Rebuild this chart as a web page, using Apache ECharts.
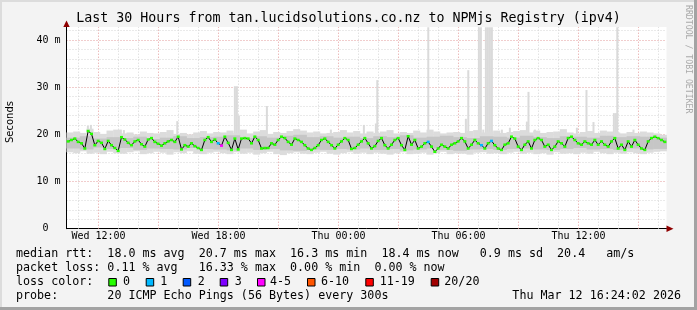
<!DOCTYPE html>
<html><head><meta charset="utf-8">
<script src="https://cdn.jsdelivr.net/npm/echarts@6/dist/echarts.min.js"></script>
<style>html,body{margin:0;padding:0;background:#f3f3f3}#c{width:697px;height:310px}</style>
</head><body><div id="c"></div>
<script>
// ---- time frame (hours since Wed 00:00) ----
const START_H = 10 + 24/60 + 2/3600;   // Wed 10:24:02
const END_H = START_H + 30;            // Thu 16:24:02
const MEDIAN_STEP_MIN = 10;
const SMOKE_STEP_MIN = 20;
const MID_STEP_MIN = 40;

// ---- tick labels ----
const xTickHours = [12, 18, 24, 30, 36];
const xTickLabels = ['Wed 12:00', 'Wed 18:00', 'Thu 00:00', 'Thu 06:00', 'Thu 12:00'];
const yTickValues = [0, 10, 20, 30, 40];
const yTickLabels = ['0  ', '10 m', '20 m', '30 m', '40 m'];
const minorGridHours = [11,13,14,16,17,19,20,22,23,25,26,28,29,31,32,34,35,37,38,40];
const majorGridHours = [12,15,18,21,24,27,30,33,36,39];

// ---- median rtt (ms), one value per 10 minutes ----
const median = [
 18.5,18.8,19.1,18.4,18.1,17.0,20.7,20.1,17.7,18.6,18.2,16.9,18.6,17.7,17.1,16.5,19.4,18.9,18.2,17.7,
 18.5,18.8,17.9,17.4,18.9,19.2,18.4,18.0,17.6,18.1,18.5,18.8,18.4,19.5,16.8,17.7,17.4,18.1,17.5,17.1,
 16.7,18.8,19.4,18.4,18.9,
 18.1,17.6,19.5,18.2,16.7,19.1,16.8,19.1,19.2,19.1,18.1,19.5,18.8,17.0,17.1,17.1,18.1,17.8,18.8,19.5,
 19.2,18.4,17.8,19.1,18.8,18.4,17.7,17.0,16.7,17.1,17.7,18.8,19.1,18.4,17.7,17.0,17.8,18.5,19.2,18.8,
 16.9,17.1,17.8,18.5,19.2,
 18.1,17.0,17.5,18.6,19.2,17.7,17.0,17.8,18.8,19.2,17.7,16.7,19.6,17.8,18.8,17.0,17.4,18.1,18.4,17.4,
 16.3,17.0,17.8,17.4,17.0,17.8,18.1,18.5,19.2,18.5,17.0,17.8,18.8,18.1,17.7,17.0,18.1,18.6,17.7,17.0,
 16.7,17.8,18.1,19.5,19.1,
 17.4,16.7,17.8,18.5,17.0,18.8,19.2,18.8,17.4,17.8,16.7,17.4,18.5,18.1,17.4,19.2,19.5,18.8,18.1,17.8,
 18.5,18.1,17.8,18.8,17.8,18.5,17.8,17.4,18.5,19.2,17.0,17.8,16.7,18.5,17.4,18.8,17.8,17.0,16.7,18.5,
 19.2,19.5,19.2,18.8,18.4
];
// samples that had packet loss: index into median, loss class index
const lossIdx = [45, 46, 108, 124, 127];
const lossCls = [1, 4, 1, 1, 1];

// ---- smoke (ms), light band per 20 minutes ----
const smokeHi = [
 20.4,20.6,20.3,21.2,20.5,20.1,20.8,21.0,20.2,20.4,20.0,20.6,20.3,20.2,20.5,20.9,20.1,20.3,20.0,20.4,20.7,20.2,20.5,
 20.4,20.8,20.3,21.0,20.2,20.6,20.9,20.1,20.5,20.3,20.7,21.1,20.8,20.4,20.6,20.2,20.3,20.5,20.9,20.4,20.7,20.2,20.6,
 20.3,20.6,20.9,20.2,20.5,20.3,20.8,20.4,21.0,20.6,20.2,20.4,20.5,20.3,20.7,20.9,20.4,20.6,20.8,20.3,20.5,20.7,
 20.9,20.4,20.8,20.3,20.5,20.6,21.1,20.4,20.2,20.5,20.7,20.3,20.8,20.6,20.4,20.2,20.5,20.3,20.6,20.4,20.2,19.9
];
const smokeLo = [
 16.2,16.0,16.4,15.9,16.1,15.8,16.3,16.0,15.9,16.2,16.4,15.8,16.0,16.3,16.1,15.7,16.2,16.0,16.4,15.9,15.8,16.1,16.3,
 16.0,15.8,16.2,15.9,16.1,15.7,16.0,16.3,15.8,15.6,16.0,16.2,15.9,15.8,16.1,16.3,15.9,15.7,16.0,16.2,15.9,16.1,15.8,
 16.1,15.9,15.7,16.0,16.2,15.8,15.9,16.1,15.7,16.0,16.3,15.8,16.0,15.9,15.7,16.1,16.2,15.9,16.0,15.8,16.1,16.3,
 15.9,16.1,15.8,16.0,15.7,16.2,15.9,16.0,15.8,16.1,15.9,16.3,16.0,15.8,16.1,15.9,16.2,16.0,15.8,16.1,16.3,16.4
];
// darker inner smoke, per 40 minutes
const midHi = [
 19.3,19.6,19.1,19.4,19.2,19.5,19.0,19.3,19.6,19.2,19.4,
 19.5,19.8,19.2,19.6,19.3,19.7,19.9,19.4,19.6,19.3,19.5,
 19.2,19.6,19.4,19.8,19.3,19.5,19.7,19.4,19.2,19.6,19.5,
 19.3,19.7,19.4,19.2,19.6,19.5,19.3,19.7,19.4,19.6,19.5,19.3
];
const midLo = [
 17.0,16.8,17.2,16.9,17.1,16.7,17.0,16.9,16.8,17.1,16.9,
 16.8,16.6,17.0,16.7,16.9,16.6,16.5,16.8,16.7,16.9,16.8,
 17.0,16.7,16.9,16.6,16.8,17.0,16.7,16.5,16.8,16.9,16.7,
 16.9,17.0,16.8,16.7,16.9,17.1,16.8,16.9,16.7,17.0,16.8,16.9
];
// isolated smoke spikes: time (hours since Wed 00:00) and highest ping (ms)
const spikeHours = [11.47,11.62,13.12,13.27,15.94,18.82,18.92,19.02,20.42,23.62,25.27,25.87,25.94,28.49,30.37,30.49,
 31.02,31.12,31.24,31.37,31.47,31.57,31.67,32.17,32.57,33.42,33.50,33.82,35.92,36.40,36.75,37.77,37.87,37.94,38.75];
const spikeTops = [21.8,22.0,21.0,20.9,22.8,30.2,30.2,24.0,26.0,21.0,22.0,22.3,31.5,42.7,23.3,33.6,
 42.7,42.7,21.0,42.7,42.7,42.7,42.7,21.0,21.4,22.7,29.0,21.0,21.4,29.4,22.6,24.5,24.5,42.7,21.0];
const SPIKE_BASE = 19.5;

// ---- legend ----
const lossColors = ['#26ff00','#00b8ff','#0059ff','#7e00ff','#ff00ff','#ff5500','#ff0000','#a00000'];
const lossNames = ['0','1','2','3','4-5','6-10','11-19','20/20'];
const legendRow1 = 'median rtt:  18.0 ms avg  20.7 ms max  16.3 ms min  18.4 ms now   0.9 ms sd  20.4   am/s';
const legendRow2 = 'packet loss: 0.11 % avg   16.33 % max  0.00 % min  0.00 % now';
const legendRow3 = 'loss color:';
const legendRow4 = 'probe:       20 ICMP Echo Pings (56 Bytes) every 300s';
const stamp = 'Thu Mar 12 16:24:02 2026';
const titleText = 'Last 30 Hours from tan.lucidsolutions.co.nz to NPMjs Registry (ipv4)';

// ---- build ----
const MONO = 'DejaVu Sans Mono';
const tAt = (i, stepMin) => START_H + (i + 0.5) * stepMin / 60;
const medianData = median.map((v, i) => [tAt(i, MEDIAN_STEP_MIN), v]);
const lossOf = i => { const k = lossIdx.indexOf(i); return k < 0 ? 0 : lossCls[k]; };
const smokeData = smokeHi.map((v, i) => [tAt(i, SMOKE_STEP_MIN), smokeLo[i], v]);
const midData = midHi.map((v, i) => [tAt(i, MID_STEP_MIN), midLo[i], v]);
const spikeData = spikeHours.map((h, i) => [h, spikeTops[i]]);
const gridData = minorGridHours.map(h => [h, 0]).concat(majorGridHours.map(h => [h, 1]));

function bandRenderer(stepMin, color) {
  return (params, api) => {
    const t = api.value(0), lo = api.value(1), hi = api.value(2);
    const a = api.coord([t - stepMin / 120, lo]);
    const b = api.coord([t + stepMin / 120, hi]);
    return {type:'rect', shape:{x:a[0], y:b[1], width:b[0]-a[0]+0.4, height:a[1]-b[1]}, style:{fill:color}};
  };
}

const chart = echarts.init(document.getElementById('c'), null, {renderer: 'canvas'});

const graphics = [
  {type:'rect', shape:{x:0,y:0,width:697,height:2}, style:{fill:'#dcdcdc'}, silent:true},
  {type:'rect', shape:{x:0,y:0,width:2,height:310}, style:{fill:'#dcdcdc'}, silent:true},
  {type:'rect', shape:{x:694,y:0,width:3,height:310}, style:{fill:'#a3a3a3'}, silent:true},
  {type:'rect', shape:{x:0,y:307,width:697,height:3}, style:{fill:'#a3a3a3'}, silent:true},
  {type:'text', x:348.5, y:19, style:{text:titleText, font:'13.3px "'+MONO+'"', fill:'#000', textAlign:'center', textVerticalAlign:'middle'}},
  {type:'text', x:10.5, y:122, rotation:Math.PI/2, style:{text:'Seconds', font:'10px "DejaVu Sans"', fill:'#000', textAlign:'center', textVerticalAlign:'middle'}},
  {type:'text', x:688, y:5, rotation:-Math.PI/2, style:{text:'RRDTOOL / TOBI OETIKER', font:'8.2px "'+MONO+'"', fill:'#a9a9a9', textAlign:'left', textVerticalAlign:'middle'}},
  {type:'polygon', shape:{points:[[63.3,27],[69.7,27],[66.5,20.5]]}, style:{fill:'#8f0000'}, z:100},
  {type:'polygon', shape:{points:[[666.5,225.5],[666.5,232],[673.5,228.7]]}, style:{fill:'#8f0000'}, z:100},
  {type:'text', x:16, y:254.3, style:{text:legendRow1, font:'11.68px "'+MONO+'"', fill:'#000', textVerticalAlign:'middle'}},
  {type:'text', x:16, y:268.3, style:{text:legendRow2, font:'11.68px "'+MONO+'"', fill:'#000', textVerticalAlign:'middle'}},
  {type:'text', x:16, y:282.3, style:{text:legendRow3, font:'11.68px "'+MONO+'"', fill:'#000', textVerticalAlign:'middle'}},
  {type:'text', x:16, y:296, style:{text:legendRow4, font:'11.68px "'+MONO+'"', fill:'#000', textVerticalAlign:'middle'}},
  {type:'text', x:681, y:296, style:{text:stamp, font:'11.68px "'+MONO+'"', fill:'#000', textAlign:'right', textVerticalAlign:'middle'}}
];
const boxX = [108.3,145.7,182.7,219.7,257,307,365.3,430.7];
const boxLabelX = [123,160.3,197.7,234.7,270,321,379.7,444.3];
lossNames.forEach((n, i) => {
  graphics.push({type:'rect', shape:{x:boxX[i]+0.5,y:278.5,width:7.5,height:7.5}, style:{fill:lossColors[i], stroke:'#000', lineWidth:1}});
  graphics.push({type:'text', x:boxLabelX[i], y:282.3, style:{text:n, font:'11.68px "'+MONO+'"', fill:'#000', textVerticalAlign:'middle'}});
});

chart.setOption({
  animation: false,
  backgroundColor: '#f3f3f3',
  grid: {left:66.5, right:30.5, top:27, bottom:81.3, show:true, backgroundColor:'#ffffff', borderWidth:0, containLabel:false},
  xAxis: {
    type:'value', min:START_H, max:END_H,
    axisLine:{show:true, onZero:false, lineStyle:{color:'#000', width:1}},
    axisTick:{show:false}, splitLine:{show:false},
    axisLabel:{customValues:xTickHours, formatter:v => { const k = xTickHours.indexOf(Math.round(v)); return k < 0 ? '' : xTickLabels[k]; },
      fontFamily:MONO, fontSize:10, color:'#000', margin:3, hideOverlap:false}
  },
  yAxis: {
    type:'value', min:0, max:42.75, interval:2,
    axisLine:{show:true, lineStyle:{color:'#000', width:1}},
    axisTick:{show:false},
    axisLabel:{customValues:yTickValues, formatter:v => { const k = yTickValues.indexOf(Math.round(v)); return k < 0 ? '' : yTickLabels[k]; },
      fontFamily:MONO, fontSize:10, color:'#000', margin:6},
    splitLine:{show:true, showMaxLine:false, lineStyle:{color:['#e39b9b','#d4d4d4','#d4d4d4','#d4d4d4','#d4d4d4'], type:[1,2], width:1}}
  },
  graphic: graphics,
  series: [
    {type:'custom', z:1, silent:true, data:gridData, renderItem:(params, api) => {
      const h = api.value(0), major = api.value(1);
      const a = api.coord([h, 0]), b = api.coord([h, 42.75]);
      return {type:'line', shape:{x1:a[0], y1:a[1], x2:b[0], y2:b[1]},
        style:{stroke: major ? '#e39b9b' : '#d4d4d4', lineWidth:1, lineDash:[1,2]}};
    }},
    {type:'custom', z:2, silent:true, data:spikeData, renderItem:(params, api) => {
      const h = api.value(0), top = api.value(1);
      const a = api.coord([h, SPIKE_BASE]), b = api.coord([h, top]);
      return {type:'rect', shape:{x:a[0]-1, y:b[1], width:2, height:a[1]-b[1]}, style:{fill:'#dadada'}};
    }},
    {type:'custom', z:2, silent:true, data:smokeData, renderItem:bandRenderer(SMOKE_STEP_MIN, '#dcdcdc')},
    {type:'custom', z:2, silent:true, data:midData, renderItem:bandRenderer(MID_STEP_MIN, '#c6c6c6')},
    {type:'line', z:3, data:medianData, symbol:'rect', symbolSize:[3,2.5], showSymbol:true,
      lineStyle:{color:'#000', width:1},
      itemStyle:{color:p => lossColors[lossOf(p.dataIndex)], borderWidth:0}, silent:true}
  ]
});
</script></body></html>
